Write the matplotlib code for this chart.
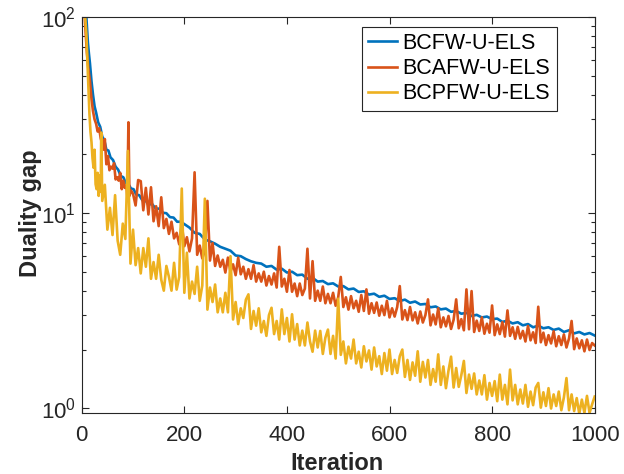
import numpy as np
import matplotlib
matplotlib.use("Agg")
import matplotlib.pyplot as plt
from matplotlib.ticker import LogLocator, NullFormatter

# Duality gap vs iteration

it_bcfw = [1, 5, 9, 12, 14, 16, 19, 22, 25, 28, 32, 36, 40, 44, 48, 52, 56, 61, 66, 71,
           76, 81, 86, 91, 96, 101, 106, 112, 118, 124, 130, 137, 144, 151, 158, 165, 172, 179, 186, 193,
           200, 210, 220, 230, 240, 250, 260, 270, 280, 290, 300, 310, 320, 330, 340, 350, 360, 370, 380, 390,
           400, 410, 420, 430, 440, 450, 460, 470, 480, 490, 500, 510, 520, 530, 540, 550, 560, 570, 580, 590,
           600, 610, 620, 630, 640, 650, 660, 670, 680, 690, 700, 710, 720, 730, 740, 750, 760, 770, 780, 790,
           800, 810, 820, 830, 840, 850, 860, 870, 880, 890, 900, 910, 920, 930, 940, 950, 960, 970, 980, 990,
           1000]
gap_bcfw = [170, 125, 100, 74, 65, 58, 47, 40, 35, 32.5, 29, 27.5, 24.5, 23.5, 21, 20.8, 19.2, 18.6, 17.2, 16.6,
            15.4, 15.2, 14.2, 14.0, 13.3, 13.2, 12.4, 12.3, 11.6, 11.6, 11.0, 11.1, 10.5, 10.5, 10.0, 9.95, 9.5, 9.45, 9.0, 9.0,
            8.75, 8.4, 7.9, 7.8, 7.3, 7.15, 6.95, 6.7, 6.55, 6.4, 6.05, 6.0, 5.8, 5.65, 5.55, 5.5, 5.3, 5.35, 5.12, 5.18,
            4.95, 5.0, 4.8, 4.83, 4.6, 4.65, 4.45, 4.48, 4.32, 4.36, 4.2, 4.22, 4.06, 4.1, 3.94, 3.97, 3.82, 3.86, 3.72, 3.77,
            3.63, 3.66, 3.54, 3.6, 3.47, 3.52, 3.4, 3.42, 3.29, 3.32, 3.21, 3.24, 3.12, 3.15, 3.05, 3.08, 2.97, 3.01, 2.92, 2.95,
            2.86, 2.88, 2.77, 2.81, 2.72, 2.76, 2.66, 2.7, 2.6, 2.65, 2.57, 2.6, 2.52, 2.56, 2.46, 2.51, 2.42, 2.46, 2.39, 2.43,
            2.36]

it_bcafw = [1, 4, 7, 10, 13, 16, 19, 22, 25, 28, 31, 34, 37, 40, 43, 45, 48, 51, 54, 57,
            60, 63, 66, 69, 72, 75, 78, 81, 84, 87, 89, 91, 93, 96,
            100, 105, 110, 115, 120, 125, 130, 135, 140, 145, 150, 155, 160, 165, 170, 175, 180, 185, 190, 195,
            200, 205, 210, 215, 220, 225, 230, 235, 240, 245, 250, 255, 260, 265, 270, 275, 280, 285, 290, 295,
            300, 305, 310, 315, 320, 325, 330, 335, 340, 345, 350, 355, 360, 365, 370, 375, 380, 385, 390, 395,
            400, 405, 410, 415, 420, 425, 430, 435, 440, 445, 450, 455, 460, 465, 470, 475, 480, 485, 490, 495,
            500, 505, 510, 515, 520, 525, 530, 535, 540, 545, 550, 555, 560, 565, 570, 575, 580, 585, 590, 595,
            600, 605, 610, 615, 620, 625, 630, 635, 640, 645, 650, 655, 660, 665, 670, 675, 680, 685, 690, 695,
            700, 705, 710, 715, 720, 725, 730, 735, 740, 745, 750, 755, 760, 765, 770, 775, 780, 785, 790, 795,
            800, 805, 810, 815, 820, 825, 830, 835, 840, 845, 850, 855, 860, 865, 870, 875, 880, 885, 890, 895,
            900, 905, 910, 915, 920, 925, 930, 935, 940, 945, 950, 955, 960, 965, 970, 975, 980, 985, 990, 995,
            1000]
gap_bcafw = [170, 125, 88, 66, 54, 47, 38, 33, 30, 28.5, 26, 27, 24, 22.5, 21, 23.8, 17.7, 19.5, 16.5, 17.2,
             16.8, 17.9, 14.8, 15.2, 14.6, 16.0, 13.2, 14.6, 13.4, 13.8, 12.0, 29.0, 12.2, 13.0,
             12.5, 10.9, 14.7, 14.5, 10.3, 13.4, 9.8, 13.5, 9.05, 10.8, 8.55, 12.0, 8.35, 9.3, 7.8, 9.0, 7.4, 7.9, 6.9, 8.8,
             6.75, 7.5, 6.35, 7.4, 16.1, 6.1, 6.8, 5.85, 6.4, 11.5, 5.7, 7.0, 5.35, 6.05, 5.3, 5.75, 4.95, 5.9, 5.0, 5.45,
             4.8, 5.9, 4.85, 5.3, 4.6, 5.15, 4.6, 5.4, 4.45, 4.9, 4.45, 5.0, 4.25, 4.75, 4.3, 4.9, 4.15, 6.7, 4.2, 4.6,
             3.95, 5.1, 3.95, 4.35, 3.75, 4.35, 3.8, 4.1, 6.55, 3.65, 5.66, 3.55, 4.0, 3.55, 4.2, 3.45, 3.85, 3.45, 3.9, 3.35,
             3.7, 4.7, 3.3, 3.7, 3.2, 3.75, 3.25, 3.55, 3.12, 3.8, 3.15, 4.06, 3.05, 3.45, 3.08, 3.48, 2.98, 3.35, 3.0, 3.55,
             2.92, 3.25, 2.95, 3.3, 4.22, 2.85, 3.18, 2.83, 3.3, 2.82, 3.1, 2.72, 3.13, 2.75, 3.0, 3.61, 2.66, 3.02, 2.69, 3.25,
             2.6, 2.92, 2.63, 2.97, 2.55, 2.84, 3.61, 2.57, 2.86, 2.51, 4.06, 2.54, 3.98, 2.46, 2.81, 2.49, 2.92, 2.41, 2.71, 2.44,
             3.36, 2.37, 2.69, 2.4, 2.76, 2.33, 3.17, 2.35, 2.6, 2.27, 2.61, 2.28, 2.49, 2.2, 2.64, 2.23, 2.45, 2.16, 3.31, 2.18,
             2.44, 2.11, 2.37, 2.15, 2.48, 2.08, 2.34, 2.11, 2.39, 2.05, 2.28, 2.8, 2.01, 2.28, 2.03, 2.23, 1.96, 2.25, 1.99, 2.16,
             2.1]

it_bcpfw = [1, 3, 5, 7, 9, 11, 13, 15, 17, 19, 21, 23, 25, 27, 29, 31, 33, 35, 37, 38,
            40, 45, 50, 55, 60, 65, 70, 75, 80, 85, 90, 95, 100, 105, 110, 115, 120, 125, 130, 135,
            140, 145, 150, 155, 160, 165, 170, 175, 180, 185, 190, 195, 200, 205, 210, 215, 220, 225, 230, 235,
            240, 245, 250, 255, 260, 265, 270, 275, 280, 285, 290, 295, 300, 305, 310, 315, 320, 325, 330, 335,
            340, 345, 350, 355, 360, 365, 370, 375, 380, 385, 390, 395, 400, 405, 410, 415, 420, 425, 430, 435,
            440, 445, 450, 455, 460, 465, 470, 475, 480, 485, 490, 495, 500, 505, 510, 515, 520, 525, 530, 535,
            540, 545, 550, 555, 560, 565, 570, 575, 580, 585, 590, 595, 600, 605, 610, 615, 620, 625, 630, 635,
            640, 645, 650, 655, 660, 665, 670, 675, 680, 685, 690, 695, 700, 705, 710, 715, 720, 725, 730, 735,
            740, 745, 750, 755, 760, 765, 770, 775, 780, 785, 790, 795, 800, 805, 810, 815, 820, 825, 830, 835,
            840, 845, 850, 855, 860, 865, 870, 875, 880, 885, 890, 895, 900, 905, 910, 915, 920, 925, 930, 935,
            940, 945, 950, 955, 960, 965, 970, 975, 980, 985, 990, 995, 1000]
gap_bcpfw = [170, 140, 118, 97, 82, 60, 45, 32, 26, 23, 19, 17, 21, 14, 13.2, 16, 12.2, 15.5, 12.8, 25.7,
             11.5, 13.9, 8.2, 10.6, 7.7, 12.3, 7.2, 6.1, 8.8, 7.35, 20.7, 5.5, 8.2, 5.4, 6.6, 4.9, 6.6, 5.3, 7.4, 4.6,
             5.6, 4.6, 6.1, 4.55, 4.0, 5.35, 4.7, 4.0, 5.55, 4.05, 4.7, 13.3, 3.9, 6.25, 3.65, 4.45, 3.85, 5.3, 3.55, 4.25,
             11.8, 3.2, 4.15, 3.5, 4.3, 3.1, 3.65, 3.1, 3.9, 3.1, 6.0, 2.85, 3.5, 2.7, 3.25, 2.9, 3.6, 3.83, 2.55, 3.15,
             2.65, 3.25, 2.45, 2.8, 2.35, 3.0, 3.27, 2.4, 2.8, 2.25, 3.21, 2.4, 2.9, 2.2, 3.03, 2.25, 2.7, 2.1, 2.5, 2.1,
             2.75, 2.2, 1.95, 2.5, 2.05, 2.49, 1.9, 2.3, 2.53, 1.9, 2.35, 1.8, 3.64, 1.88, 2.2, 1.7, 2.07, 1.8, 2.25, 1.7,
             1.95, 1.62, 2.08, 1.74, 1.98, 1.58, 2.05, 1.64, 1.85, 1.5, 1.92, 1.56, 2.0, 1.5, 1.77, 1.52, 1.85, 2.0, 1.45, 1.77,
             1.4, 1.72, 1.47, 1.96, 1.37, 1.73, 1.44, 1.77, 1.32, 1.59, 1.37, 1.89, 1.32, 1.64, 1.27, 1.56, 1.84, 1.28, 1.61, 1.29,
             1.48, 1.75, 1.2, 1.49, 1.26, 1.51, 1.18, 1.39, 1.18, 1.48, 1.11, 1.35, 1.16, 1.38, 1.09, 1.49, 1.11, 1.32, 1.05, 1.58,
             1.1, 1.32, 1.05, 1.25, 1.06, 1.32, 1.02, 1.22, 1.04, 1.28, 1.35, 1.01, 1.21, 1.03, 1.27, 1.0, 1.18, 1.03, 1.22, 0.98,
             1.14, 1.43, 0.98, 1.18, 0.97, 1.13, 0.94, 1.11, 0.95, 1.16, 0.95, 1.05, 1.15]

labels = ["BCFW-U-ELS", "BCAFW-U-ELS", "BCPFW-U-ELS"]
colors = ["#0072BD", "#D95319", "#EDB120"]

plt.rcParams['font.family'] = ['Liberation Sans', 'DejaVu Sans']
axcol = '#262626'

fig = plt.figure(figsize=(6.24, 4.74), dpi=100)
ax = fig.add_axes([0.131, 0.129, 0.822, 0.835])

ax.plot(it_bcfw, gap_bcfw, color=colors[0], lw=1.9, label=labels[0])
ax.plot(it_bcafw, gap_bcafw, color=colors[1], lw=1.9, label=labels[1])
ax.plot(it_bcpfw, gap_bcpfw, color=colors[2], lw=1.9, label=labels[2])

ax.set_yscale('log')
ax.set_xlim(0, 1000)
ax.set_ylim(0.95, 100)
ax.set_xticks([0, 200, 400, 600, 800, 1000])
ax.yaxis.set_major_locator(LogLocator(base=10, numticks=10))
ax.yaxis.set_minor_locator(LogLocator(base=10, subs=np.arange(2, 10), numticks=20))
ax.yaxis.set_minor_formatter(NullFormatter())

ax.tick_params(which='both', direction='in', top=True, right=True, colors=axcol, labelsize=16, width=0.8)
ax.tick_params(which='major', length=5)
ax.tick_params(which='minor', length=3)
ax.tick_params(axis='x', pad=9)
ax.tick_params(axis='y', pad=4)
for s in ax.spines.values():
    s.set_color(axcol)
    s.set_linewidth(0.8)

ax.set_xlabel("Iteration", fontsize=17, fontweight='bold', color=axcol)
ax.set_ylabel("Duality gap", fontsize=17, fontweight='bold', color=axcol)
ax.xaxis.set_label_coords(0.497, -0.098)
ax.yaxis.set_label_coords(-0.078, 0.505)

leg = ax.legend(loc='upper right', bbox_to_anchor=(0.926, 0.976), fontsize=15.5, frameon=True,
                fancybox=False, framealpha=1, edgecolor=axcol, handlelength=1.35,
                borderpad=0.29, labelspacing=0.2, handletextpad=0.25, borderaxespad=0)
leg.get_frame().set_linewidth(0.8)

fig.savefig("out.png", dpi=100)
